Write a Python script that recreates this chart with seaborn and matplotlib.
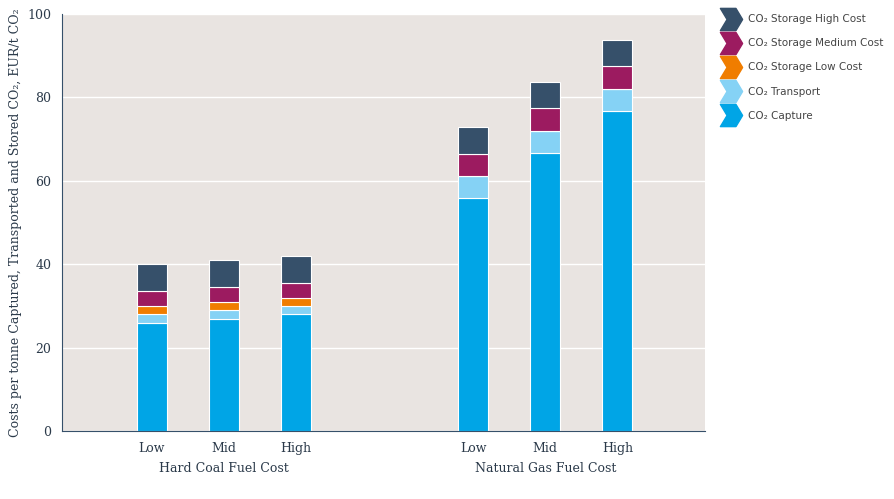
import numpy as np
import matplotlib
matplotlib.use("Agg")
import matplotlib.pyplot as plt
from matplotlib.path import Path
from matplotlib.lines import Line2D
import seaborn as sns

sns.set_style("white")
plt.rcParams['font.family'] = ['DejaVu Sans']

scenarios = ["Low", "Mid", "High", "Low", "Mid", "High"]
groups = ["Hard Coal Fuel Cost", "Natural Gas Fuel Cost"]
capture = [26.0, 27.0, 28.0, 56.0, 66.7, 76.7]
transport = [2.0, 2.0, 2.0, 5.2, 5.3, 5.3]
storage_low = [2.0, 2.0, 2.0, 0.0, 0.0, 0.0]
storage_med = [3.5, 3.5, 3.5, 5.3, 5.5, 5.5]
storage_high = [6.5, 6.5, 6.5, 6.5, 6.2, 6.2]

series = [
    ("CO₂ Capture", capture, "#00a5e6"),
    ("CO₂ Transport", transport, "#85d2f5"),
    ("CO₂ Storage Low Cost", storage_low, "#f07d00"),
    ("CO₂ Storage Medium Cost", storage_med, "#9c1b60"),
    ("CO₂ Storage High Cost", storage_high, "#36506a"),
]

xpos = np.array([0, 1, 2, 4.46, 5.46, 6.46])

fig = plt.figure(figsize=(8.95, 4.99), dpi=100)
ax = fig.add_axes([0.069, 0.136, 0.719, 0.836])
ax.set_facecolor("#e9e4e1")

bottom = np.zeros(len(xpos))
for name, vals, col in series:
    vals = np.array(vals)
    ax.bar(xpos, vals, bottom=bottom, width=0.42, color=col,
           edgecolor="white", linewidth=0.8)
    bottom += vals

ax.set_xlim(-1.25, 7.68)
ax.set_ylim(0, 100)
ax.set_yticks(range(0, 101, 20))
ax.yaxis.grid(True, color="white", linewidth=1)
ax.set_axisbelow(True)
ax.set_xticks(xpos)
ax.set_xticklabels(scenarios, family="DejaVu Serif", fontsize=9, color="#2b3a4a")
for lab in ax.get_yticklabels():
    lab.set_family("DejaVu Serif")
    lab.set_fontsize(9)
    lab.set_color("#2b3a4a")
ax.tick_params(axis="both", length=4, color="#36506a")
for s in ["top", "right"]:
    ax.spines[s].set_visible(False)
ax.spines["left"].set_color("#36506a")
ax.spines["bottom"].set_color("#36506a")
ax.set_ylabel("Costs per tonne Captured, Transported and Stored CO₂, EUR/t CO₂",
              family="DejaVu Serif", fontsize=9, color="#2b3a4a")

for gname, cx in zip(groups, [1, 5.46]):
    ax.text(cx, -0.075, gname, transform=ax.get_xaxis_transform(),
            ha="center", va="top", family="DejaVu Serif", fontsize=9, color="#2b3a4a")

chevron = Path([(-1, -1), (0.4, -1), (1, 0), (0.4, 1), (-1, 1), (-0.4, 0), (-1, -1)],
               [Path.MOVETO] + [Path.LINETO] * 5 + [Path.CLOSEPOLY])
handles = [Line2D([], [], marker=chevron, markersize=16, linestyle="none",
                  color=col, markeredgecolor=col) for _, _, col in reversed(series)]
labels = [name for name, _, _ in reversed(series)]
fig.legend(handles, labels, loc="upper left", bbox_to_anchor=(0.795, 0.99),
           frameon=False, fontsize=7.5, labelspacing=1.35, handletextpad=0.6,
           labelcolor="#444444")

fig.savefig("out.png", dpi=100)
